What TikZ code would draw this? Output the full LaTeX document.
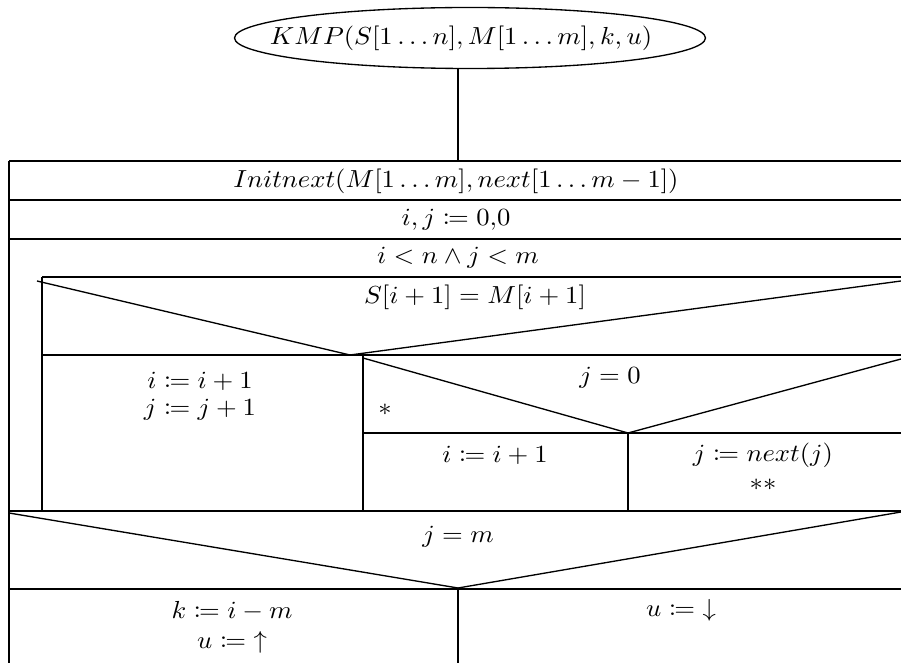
\documentclass[tikz,border=0pt]{standalone}
\usepackage{mathtools}
\usetikzlibrary{shapes.geometric}
\begin{document}
\begin{tikzpicture}[x=0.75pt, y=-0.75pt, line width=1.4pt,
    every node/.style={scale=1.85, xscale=1.08, inner sep=1pt},
    slant/.style={line width=1pt}]
    \useasboundingbox (0,0) rectangle (901,663);
    % head of the procedure
    \draw[line width=1pt] (470,38) ellipse (235.5 and 30.5);
    \node (title) at (461,38) {$KMP(S[1 \ldots n], M[1 \ldots m], k, u)$};
    \coordinate (head) at (458,68.5);
    \coordinate (top) at (458,161);
    \draw (head) -- (top);
    % frame and full rows
    \draw (9,161) -- (9,663);
    \foreach \y in {161,200,239,511,589} \draw (9,\y) -- (901,\y);
    % loop body
    \draw (42,277) -- (901,277);
    \draw (42,277) -- (42,511);
    \draw (42,355) -- (901,355);
    \draw (363,355) -- (363,511);
    \draw (363,433) -- (901,433);
    \draw (628,433) -- (628,511);
    \draw (458,589) -- (458,663);
    % decision slants
    \draw[slant] (37,281) -- (350,355) -- (901,281);
    \draw[slant] (363,358) -- (628,433) -- (901,359);
    \draw[slant] (9,513) -- (458,588) -- (901,512);
    % texts
    \node (initnext) at (456,181) {$Initnext(M[1 \ldots m], next[1 \ldots m-1])$};
    \node (setij) at (456,220) {$i, j \coloneqq 0{,}0$};
    \node (loop) at (458,258) {$i < n \wedge j < m$};
    \node (cond1) at (475,297) {$S[i+1] = M[i+1]$};
    \node (inci) at (200,381) {$i \coloneqq i+1$};
    \node (incj) at (200,410) {$j \coloneqq j+1$};
    \node (cond2) at (610,378) {$j = 0$};
    \node (star) at (385,410) {$*$};
    \node (inci2) at (495,455) {$i \coloneqq i+1$};
    \node (nextj) at (763,455) {$j \coloneqq next(j)$};
    \node (stars) at (763,485) {$**$};
    \node (cond3) at (458,537) {$j = m$};
    \node (setk) at (232,611) {$k \coloneqq i-m$};
    \node (up) at (232,642) {$u \coloneqq{\uparrow}$};
    \node (down) at (681,610) {$u \coloneqq{\downarrow}$};
\end{tikzpicture}
\end{document}
